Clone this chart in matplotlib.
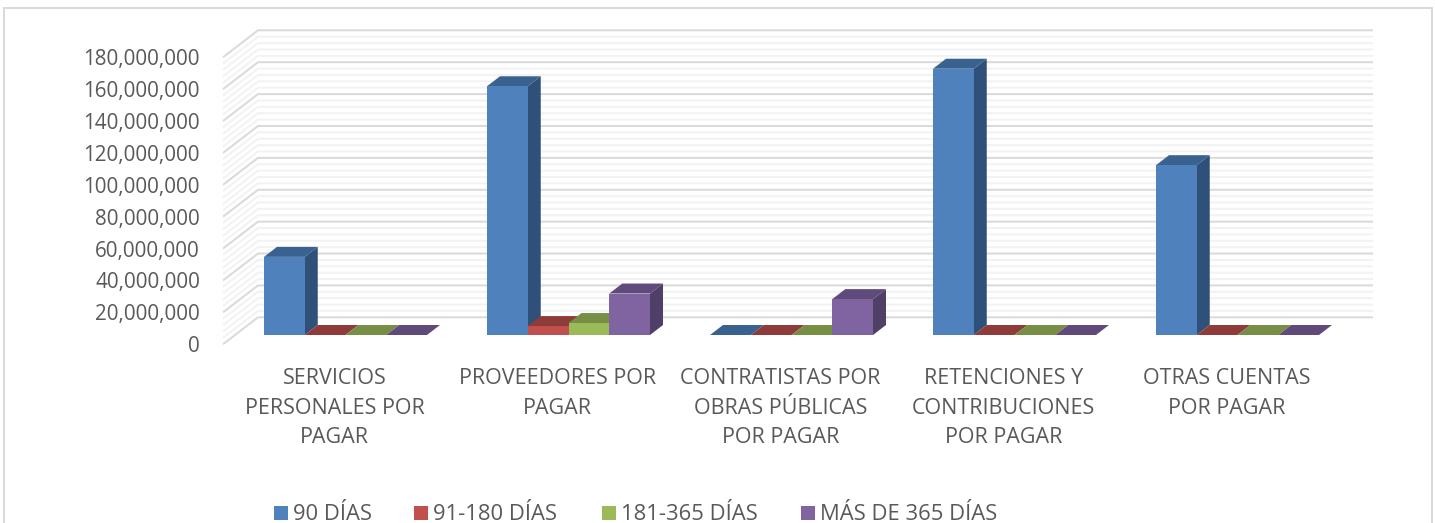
import matplotlib.pyplot as plt
from matplotlib.patches import Polygon, Rectangle

plt.rcParams['font.family'] = ['Open Sans', 'DejaVu Sans']

categories = ["SERVICIOS\nPERSONALES POR\nPAGAR", "PROVEEDORES POR\nPAGAR",
              "CONTRATISTAS POR\nOBRAS PÚBLICAS\nPOR PAGAR",
              "RETENCIONES Y\nCONTRIBUCIONES\nPOR PAGAR", "OTRAS CUENTAS\nPOR PAGAR"]
series_names = ["90 DÍAS", "91-180 DÍAS", "181-365 DÍAS", "MÁS DE 365 DÍAS"]
dias_90 = [49000000, 156000000, 0, 167000000, 106500000]
dias_180 = [0, 5600000, 0, 0, 0]
dias_365 = [0, 7500000, 0, 0, 0]
dias_mas = [0, 26000000, 22500000, 0, 0]
all_series = [dias_90, dias_180, dias_365, dias_mas]
y_ticks = list(range(0, 180000001, 20000000))
minor_ticks = list(range(0, 180000001, 4000000))

# front, side, top
colors = [("#4f81bd", "#2f5078", "#3a6291"),
          ("#c0504d", "#7d3432", "#8f3b39"),
          ("#9bbb59", "#647a3a", "#778f45"),
          ("#8064a2", "#503f66", "#604a7b")]

W, H = 1435, 523
fig = plt.figure(figsize=(W / 100, H / 100), dpi=100)
# the axes is the plane of the bars' front faces
ax = fig.add_axes([235 / W, (H - 335) / H, 1115 / W, 287 / H])
ax.set_xlim(-0.5, 4.5)
ax.set_ylim(0, 180000000)
ax.axis("off")

PX_X = 5 / 1115  # x data per pixel
PX_Y = 180000000 / 287  # y data per pixel
bar_w = 40.75 * PX_X


def proj(x, v, d_px):
    # fake oblique projection, d_px = pixels to the right going into the chart
    return x + d_px * PX_X, v + d_px * (10 / 13) * PX_Y


# walls
for t in minor_ticks:
    major = t in y_ticks
    c = "#d9d9d9" if major else "#f2f2f2"
    lw = 1.4
    z = 2 if major else 1
    p0 = proj(-0.5, t, -12)
    p1 = proj(-0.5, t, 23)
    p2 = proj(4.5, t, 23)
    ax.plot([p0[0], p1[0], p2[0]], [p0[1], p1[1], p2[1]], color=c, lw=lw, zorder=z,
            clip_on=False, solid_capstyle="butt")

# bars, left to right so nearer ones come last
z = 5
for i in range(len(categories)):
    for s, vals in enumerate(all_series):
        x0 = i - 2 * bar_w + s * bar_w - 1 * PX_X
        x1 = x0 + bar_w
        v = vals[i]
        front, side, top = colors[s]
        side_pts = [(x1, 0), proj(x1, 0, 13), proj(x1, v, 13), (x1, v)]
        top_pts = [(x0, v), (x1, v), proj(x1, v, 13), proj(x0, v, 13)]
        ax.add_patch(Polygon(side_pts, fc=side, ec="none", zorder=z, clip_on=False))
        ax.add_patch(Polygon(top_pts, fc=top, ec="none", zorder=z, clip_on=False))
        ax.add_patch(Rectangle((x0, 0), bar_w, v, fc=front, ec="none", zorder=z, clip_on=False))
        z += 1

txt = "#595959"
# value labels sit on the front edge of the side wall
for t in y_ticks:
    px, py = proj(-0.5, t, -12)
    ax.annotate(f"{t:,}", xy=(px, py), xytext=(-23, -2.5), textcoords="offset pixels",
                ha="right", va="center", fontsize=14.9, color=txt, annotation_clip=False)

for i, label in enumerate(categories):
    px, py = proj(i, 0, -12)
    for j, line in enumerate(label.split("\n")):
        ax.annotate(line, xy=(px, py), xytext=(0, -34.5 - 29.5 * j), textcoords="offset pixels",
                    ha="center", va="center", fontsize=15.5, color=txt, annotation_clip=False)

# legend
leg_x = [274, 414, 602, 801]
for name, lx, c in zip(series_names, leg_x, colors):
    fig.add_artist(Rectangle((lx / W, (H - 520) / H), 14 / W, 14 / H, fc=c[0], ec="none",
                             transform=fig.transFigure))
    fig.text((lx + 19) / W, (H - 514) / H, name, ha="left", va="center", fontsize=15.8, color=txt)

# chart border, runs off the bottom of the image
fig.add_artist(Rectangle((3.5 / W, -5 / H), 1428 / W, (H - 8 + 5) / H, fc="none", ec="#d9d9d9",
                         lw=1.4, transform=fig.transFigure, zorder=0))

fig.savefig("out.png", dpi=100)
